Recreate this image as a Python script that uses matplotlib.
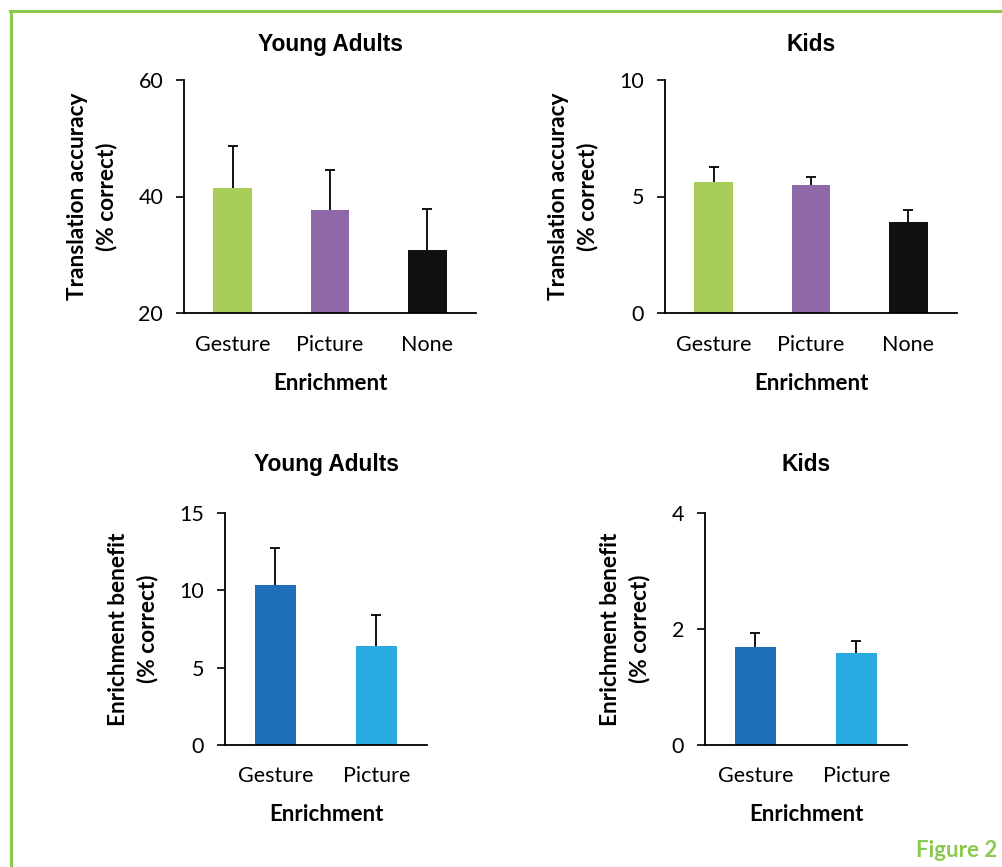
import matplotlib
matplotlib.use("Agg")
import matplotlib.pyplot as plt
from matplotlib.lines import Line2D

# ---------- dados ----------
cats_acc = ["Gesture", "Picture", "None"]
ya_acc = [41.4, 37.6, 30.9]
ya_acc_err = [7.2, 7.0, 7.0]
kids_acc = [5.62, 5.49, 3.90]
kids_acc_err = [0.63, 0.36, 0.53]

cats_ben = ["Gesture", "Picture"]
ya_ben = [10.36, 6.40]
ya_ben_err = [2.38, 1.99]
kids_ben = [1.69, 1.59]
kids_ben_err = [0.24, 0.21]

cores_acc = ["#A8CC58", "#8F68A8", "#111111"]
cores_ben = ["#1D70B8", "#29ABE2"]

W, H = 1003, 867
fig = plt.figure(figsize=(W / 100, H / 100), dpi=100)

label_font = "Lato"
title_font = "Liberation Sans"


def eixo(left, top, right, bottom):
    return fig.add_axes([left / W, 1 - bottom / H, (right - left) / W, (bottom - top) / H])


def painel(ax, cats, vals, errs, cores, ylim, yticks, titulo, ylabel, largura, title_y, xpad):
    x = range(len(cats))
    ax.bar(x, vals, width=largura, color=cores, zorder=2)
    eb = ax.errorbar(x, vals, yerr=[[0] * len(vals), errs], fmt="none", ecolor="black",
                     elinewidth=1.3, capsize=3.5, capthick=1.3, zorder=3)
    # so a barra de cima
    eb[1][0].set_visible(False)
    ax.set_xlim(-0.5, len(cats) - 0.5)
    ax.set_ylim(*ylim)
    ax.set_yticks(yticks)
    ax.set_xticks(list(x))
    ax.set_xticklabels(cats, fontfamily=label_font, fontsize=15.5)
    for t in ax.get_yticklabels():
        t.set_fontfamily(label_font)
        t.set_fontsize(15.5)
    ax.tick_params(axis="x", length=0, pad=xpad)
    ax.tick_params(axis="y", length=6, width=1.2, direction="out", pad=9)
    ax.spines["top"].set_visible(False)
    ax.spines["right"].set_visible(False)
    ax.spines["left"].set_linewidth(1.3)
    ax.spines["bottom"].set_linewidth(1.3)
    ax.set_xlabel("Enrichment", fontfamily=label_font, fontweight="bold", fontsize=16, labelpad=13)
    ax.set_ylabel(ylabel, fontfamily=label_font, fontweight="bold", fontsize=16.3, labelpad=15,
                  linespacing=1.45)
    ax.set_title(titulo, fontfamily=title_font, fontweight="bold", fontsize=16.4, pad=0, y=title_y)


ax1 = eixo(184, 80, 476, 313)
painel(ax1, cats_acc, ya_acc, ya_acc_err, cores_acc, (20, 60), [20, 40, 60], "Young Adults",
       "Translation accuracy\n(% correct)", 0.4, 1.125, 16)

ax2 = eixo(665, 80, 957, 313)
painel(ax2, cats_acc, kids_acc, kids_acc_err, cores_acc, (0, 10), [0, 5, 10], "Kids",
       "Translation accuracy\n(% correct)", 0.4, 1.125, 16)

ax3 = eixo(225, 513, 427, 745)
painel(ax3, cats_ben, ya_ben, ya_ben_err, cores_ben, (0, 15), [0, 5, 10, 15], "Young Adults",
       "Enrichment benefit\n(% correct)", 0.41, 1.183, 15)

ax4 = eixo(705, 513, 907, 745)
painel(ax4, cats_ben, kids_ben, kids_ben_err, cores_ben, (0, 4), [0, 2, 4], "Kids",
       "Enrichment benefit\n(% correct)", 0.41, 1.183, 15)

# moldura verde (so esquerda e topo)
verde = "#8BC850"
fig.add_artist(Line2D([11.5 / W, 11.5 / W], [0, 1 - 10.5 / H], color=verde, lw=2.2,
                      transform=fig.transFigure))
fig.add_artist(Line2D([10.4 / W, 1], [1 - 10.5 / H, 1 - 10.5 / H], color=verde, lw=2.2,
                      transform=fig.transFigure))

fig.text(997 / W, 1 - 857 / H, "Figure 2", color=verde, fontfamily=label_font,
         fontweight="bold", fontsize=16, ha="right", va="baseline")

fig.savefig("out.png", dpi=100, facecolor="white")
